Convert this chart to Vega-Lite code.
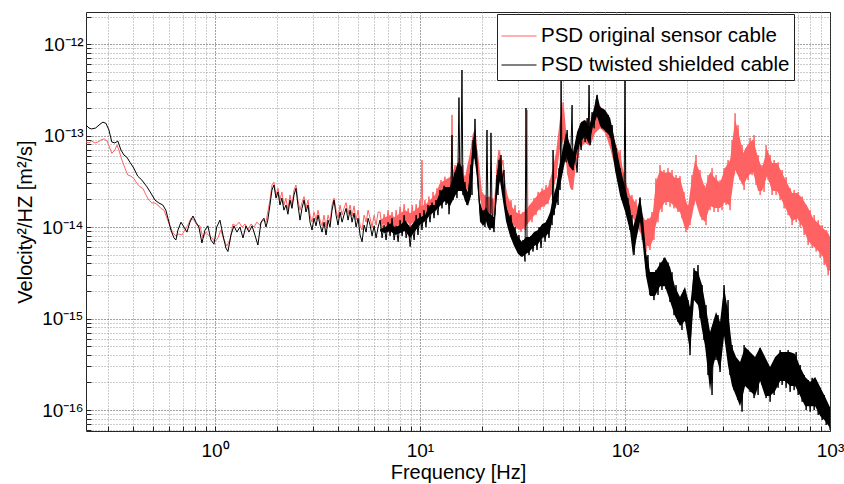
{
"$schema": "https://vega.github.io/schema/vega-lite/v6.json",
"width": 744, "height": 419,
"autosize": {"type": "none"},
"padding": {"left": 86, "top": 12, "right": 14, "bottom": 53},
"background": "white",
"config": {
  "view": {"stroke": "#262626", "strokeWidth": 1},
  "font": "Liberation Sans",
  "axis": {"labelFont": "Liberation Sans", "titleFont": "Liberation Sans", "labelColor": "black", "titleColor": "black", "titleFontWeight": "normal", "domain": false, "labelOverlap": false, "labelFlush": false, "tickColor": "#222", "tickSize": -5}
},
"datasets": {
"origBand": [
{"f":6.39,"p":1.2e-14,"p2":1.1e-14},{"f":6.76,"p":1.28e-14,"p2":1.05e-14},{"f":7.151,"p":1.35e-14,"p2":1.05e-14},{"f":7.565,"p":1.28e-14,"p2":1.0e-14},{"f":8.002,"p":1.42e-14,"p2":1.1e-14},{"f":8.465,"p":1.53e-14,"p2":1.19e-14},{"f":8.955,"p":1.42e-14,"p2":1.05e-14},{"f":9.473,"p":1.53e-14,"p2":1.19e-14},{"f":10.0,"p":1.69e-14,"p2":1.28e-14},{"f":10.58,"p":1.74e-14,"p2":1.35e-14},{"f":11.19,"p":1.97e-14,"p2":1.53e-14},{"f":11.84,"p":2.24e-14,"p2":1.74e-14},{"f":12.52,"p":3.02e-14,"p2":2.077e-14},{"f":13.24,"p":3.26e-14,"p2":2.077e-14},{"f":14.01,"p":3.52e-14,"p2":2.077e-14},{"f":14.82,"p":4.53e-14,"p2":2.67e-14},{"f":15.67,"p":5.14e-14,"p2":2.67e-14},{"f":16.58,"p":3.52e-14,"p2":2.077e-14},{"f":17.54,"p":6.43e-14,"p2":3.02e-14},{"f":18.35,"p":1.066e-13,"p2":6.43e-14},{"f":19.19,"p":6.43e-14,"p2":3.43e-14},{"f":20.07,"p":2.416e-14,"p2":1.53e-14},{"f":21.0,"p":2.13e-14,"p2":1.418e-14},{"f":21.96,"p":2.13e-14,"p2":1.418e-14},{"f":22.97,"p":1.873e-14,"p2":1.316e-14},{"f":23.76,"p":5.0e-14,"p2":2.67e-14},{"f":24.57,"p":6.94e-14,"p2":3.89e-14},{"f":25.7,"p":3.1e-14,"p2":1.826e-14},{"f":26.9,"p":2.13e-14,"p2":1.418e-14},{"f":28.12,"p":1.655e-14,"p2":1.103e-14},{"f":29.42,"p":1.455e-14,"p2":9.73e-15},{"f":30.77,"p":1.38e-14,"p2":9.27e-15},{"f":32.19,"p":1.455e-14,"p2":9.73e-15},{"f":33.67,"p":1.655e-14,"p2":1.103e-14},{"f":35.2,"p":1.873e-14,"p2":1.25e-14},{"f":36.83,"p":2.13e-14,"p2":1.418e-14},{"f":38.53,"p":2.416e-14,"p2":1.613e-14},{"f":40.3,"p":2.54e-14,"p2":1.697e-14},{"f":42.16,"p":2.74e-14,"p2":1.826e-14},{"f":44.1,"p":3.99e-14,"p2":2.355e-14},{"f":46.12,"p":6.6e-14,"p2":3.43e-14},{"f":48.24,"p":1.557e-13,"p2":7.3e-14},{"f":50.46,"p":1.993e-13,"p2":9.36e-14},{"f":52.2,"p":8.28e-14,"p2":3.89e-14},{"f":53.99,"p":5.14e-14,"p2":2.67e-14},{"f":55.84,"p":4.53e-14,"p2":2.54e-14},{"f":57.75,"p":9.36e-14,"p2":5.0e-14},{"f":60.41,"p":1.372e-13,"p2":7.3e-14},{"f":63.9,"p":1.443e-13,"p2":8.28e-14},{"f":67.6,"p":1.372e-13,"p2":7.67e-14},{"f":71.51,"p":1.761e-13,"p2":1.066e-13},{"f":75.65,"p":1.993e-13,"p2":1.205e-13},{"f":80.02,"p":1.761e-13,"p2":1.066e-13},{"f":84.65,"p":1.205e-13,"p2":7.3e-14},{"f":89.55,"p":8.28e-14,"p2":4.41e-14},{"f":94.73,"p":6.12e-14,"p2":3.1e-14},{"f":100,"p":3.26e-14,"p2":2.077e-14},{"f":105.8,"p":2.24e-14,"p2":1.455e-14},{"f":111.9,"p":1.873e-14,"p2":1.132e-14},{"f":118.4,"p":1.53e-14,"p2":8.82e-15},{"f":125.2,"p":1.19e-14,"p2":6.36e-15},{"f":132.4,"p":1.25e-14,"p2":6.05e-15},{"f":136.9,"p":1.455e-14,"p2":7.21e-15},{"f":141.6,"p":3.1e-14,"p2":1.05e-14},{"f":148.2,"p":4.2e-14,"p2":1.53e-14},{"f":156.7,"p":3.89e-14,"p2":1.873e-14},{"f":165.8,"p":3.99e-14,"p2":1.873e-14},{"f":175.4,"p":3.43e-14,"p2":1.655e-14},{"f":185.5,"p":3.43e-14,"p2":1.455e-14},{"f":196.2,"p":2.13e-14,"p2":9.73e-15},{"f":202.9,"p":1.655e-14,"p2":9.27e-15},{"f":212.3,"p":3.43e-14,"p2":1.316e-14},{"f":219.6,"p":5.4e-14,"p2":1.97e-14},{"f":232.3,"p":3.89e-14,"p2":1.316e-14},{"f":245.7,"p":2.67e-14,"p2":1.132e-14},{"f":260.0,"p":3.99e-14,"p2":1.697e-14},{"f":275.0,"p":3.43e-14,"p2":1.613e-14},{"f":290.9,"p":3.02e-14,"p2":1.613e-14},{"f":307.7,"p":4.41e-14,"p2":1.873e-14},{"f":325.5,"p":5.4e-14,"p2":1.697e-14},{"f":344.3,"p":1.48e-13,"p2":4.2e-14},{"f":356.1,"p":1.15e-13,"p2":3.61e-14},{"f":376.7,"p":6.43e-14,"p2":2.81e-14},{"f":398.5,"p":8.07e-14,"p2":3.61e-14},{"f":421.6,"p":9.13e-14,"p2":3.99e-14},{"f":445.9,"p":5.67e-14,"p2":2.48e-14},{"f":466.4,"p":4.41e-14,"p2":2.48e-14},{"f":493.4,"p":7.11e-14,"p2":3.61e-14},{"f":521.9,"p":5.0e-14,"p2":2.48e-14},{"f":552.2,"p":5.0e-14,"p2":2.48e-14},{"f":584.0,"p":3.89e-14,"p2":1.92e-14},{"f":617.8,"p":3.02e-14,"p2":1.49e-14},{"f":653.5,"p":2.355e-14,"p2":1.16e-14},{"f":691.3,"p":2.355e-14,"p2":1.25e-14},{"f":731.3,"p":2.077e-14,"p2":1.024e-14},{"f":782.3,"p":1.613e-14,"p2":7.03e-15},{"f":827.6,"p":1.25e-14,"p2":6.2e-15},{"f":875.5,"p":1.103e-14,"p2":5.47e-15},{"f":926.0,"p":9.73e-15,"p2":4.7e-15},{"f":979.7,"p":8.6e-15,"p2":3.22e-15},{"f":1000,"p":7.78e-15,"p2":3.39e-15}
],
"twistBand": [
{"f":6.39,"p":9.5e-15,"p2":9.0e-15},{"f":6.76,"p":9.97e-15,"p2":8.61e-15},{"f":7.151,"p":1.1e-14,"p2":9.04e-15},{"f":7.565,"p":9.97e-15,"p2":8.18e-15},{"f":8.002,"p":1.05e-14,"p2":8.61e-15},{"f":8.465,"p":1.19e-14,"p2":9.04e-15},{"f":8.955,"p":9.97e-15,"p2":7.59e-15},{"f":9.473,"p":1.19e-14,"p2":9.04e-15},{"f":10.0,"p":1.28e-14,"p2":1.05e-14},{"f":10.58,"p":1.35e-14,"p2":1.16e-14},{"f":11.19,"p":1.74e-14,"p2":1.35e-14},{"f":11.84,"p":1.74e-14,"p2":1.49e-14},{"f":12.52,"p":2.416e-14,"p2":1.697e-14},{"f":13.24,"p":2.74e-14,"p2":1.92e-14},{"f":14.01,"p":2.74e-14,"p2":1.697e-14},{"f":14.82,"p":3.99e-14,"p2":2.18e-14},{"f":15.33,"p":5.14e-14,"p2":2.48e-14},{"f":16.03,"p":4.53e-14,"p2":2.48e-14},{"f":16.58,"p":2.74e-14,"p2":1.92e-14},{"f":17.15,"p":2.416e-14,"p2":1.697e-14},{"f":17.74,"p":5.14e-14,"p2":2.18e-14},{"f":18.35,"p":1.094e-13,"p2":5.97e-14},{"f":18.97,"p":6.6e-14,"p2":3.61e-14},{"f":19.62,"p":1.873e-14,"p2":1.16e-14},{"f":20.3,"p":1.455e-14,"p2":1.024e-14},{"f":21.0,"p":1.655e-14,"p2":1.16e-14},{"f":21.47,"p":1.455e-14,"p2":9.73e-15},{"f":22.97,"p":1.284e-14,"p2":9.73e-15},{"f":23.76,"p":3.99e-14,"p2":2.18e-14},{"f":24.57,"p":5.82e-14,"p2":3.18e-14},{"f":25.41,"p":3.52e-14,"p2":1.92e-14},{"f":26.29,"p":1.655e-14,"p2":1.16e-14},{"f":27.5,"p":1.284e-14,"p2":7.98e-15},{"f":28.77,"p":9.99e-15,"p2":6.2e-15},{"f":30.09,"p":7.78e-15,"p2":5.07e-15},{"f":31.47,"p":6.86e-15,"p2":4.7e-15},{"f":32.92,"p":7.78e-15,"p2":5.07e-15},{"f":34.43,"p":7.78e-15,"p2":5.47e-15},{"f":36.02,"p":8.82e-15,"p2":6.2e-15},{"f":37.67,"p":9.27e-15,"p2":6.52e-15},{"f":39.41,"p":1.076e-14,"p2":7.58e-15},{"f":41.22,"p":1.132e-14,"p2":7.98e-15},{"f":43.11,"p":1.455e-14,"p2":9.04e-15},{"f":44.59,"p":2.13e-14,"p2":1.316e-14},{"f":46.12,"p":2.74e-14,"p2":1.697e-14},{"f":47.7,"p":4.53e-14,"p2":2.48e-14},{"f":49.9,"p":7.48e-14,"p2":4.1e-14},{"f":51.6,"p":1.094e-13,"p2":5.97e-14},{"f":53.4,"p":8.49e-14,"p2":4.64e-14},{"f":55.84,"p":6.6e-14,"p2":4.1e-14},{"f":58.4,"p":1.094e-13,"p2":6.77e-14},{"f":61.1,"p":1.407e-13,"p2":8.71e-14},{"f":63.9,"p":1.48e-13,"p2":9.85e-14},{"f":66.8,"p":1.236e-13,"p2":8.07e-14},{"f":69.91,"p":1.807e-13,"p2":1.268e-13},{"f":73.1,"p":2.84e-13,"p2":1.638e-13},{"f":75.65,"p":2.045e-13,"p2":1.268e-13},{"f":80.02,"p":1.9e-13,"p2":1.121e-13},{"f":84.65,"p":1.557e-13,"p2":9.85e-14},{"f":89.55,"p":8.49e-14,"p2":4.1e-14},{"f":94.73,"p":4.53e-14,"p2":2.18e-14},{"f":100,"p":2.74e-14,"p2":1.49e-14},{"f":105.8,"p":1.655e-14,"p2":9.04e-15},{"f":109.4,"p":9.99e-15,"p2":4.82e-15},{"f":113.2,"p":1.284e-14,"p2":7.03e-15},{"f":118.4,"p":2.13e-14,"p2":1.16e-14},{"f":122.4,"p":1.284e-14,"p2":6.2e-15},{"f":126.6,"p":5.34e-15,"p2":2.92e-15},{"f":132.4,"p":3.22e-15,"p2":1.76e-15},{"f":140.1,"p":3.22e-15,"p2":1.76e-15},{"f":148.2,"p":3.94e-15,"p2":2.26e-15},{"f":156.7,"p":4.7e-15,"p2":2.26e-15},{"f":165.8,"p":3.65e-15,"p2":1.55e-15},{"f":175.4,"p":2.21e-15,"p2":1.06e-15},{"f":185.5,"p":1.72e-15,"p2":8.28e-16},{"f":196.2,"p":2.21e-15,"p2":9.39e-16},{"f":207.6,"p":1.33e-15,"p2":4.41e-16},{"f":217.1,"p":3.39e-15,"p2":1.59e-15},{"f":227.1,"p":3.22e-15,"p2":1.4e-15},{"f":237.6,"p":2.32e-15,"p2":7.49e-16},{"f":245.7,"p":1.51e-15,"p2":5.0e-16},{"f":260.0,"p":7.12e-16,"p2":1.61e-16},{"f":268.9,"p":9.16e-16,"p2":3.02e-16},{"f":278.1,"p":1.18e-15,"p2":3.89e-16},{"f":290.9,"p":9.16e-16,"p2":2.67e-16},{"f":304.3,"p":2.21e-15,"p2":6.44e-16},{"f":318.3,"p":1.18e-15,"p2":3.02e-16},{"f":332.9,"p":4.88e-16,"p2":1.83e-16},{"f":348.2,"p":3.8e-16,"p2":1.42e-16},{"f":364.2,"p":3.35e-16,"p2":1.1e-16},{"f":385.3,"p":4.88e-16,"p2":1.83e-16},{"f":407.6,"p":4.3e-16,"p2":1.61e-16},{"f":431.1,"p":3.8e-16,"p2":1.42e-16},{"f":456.1,"p":4.88e-16,"p2":2.08e-16},{"f":482.4,"p":3.8e-16,"p2":1.42e-16},{"f":510.3,"p":2.95e-16,"p2":1.42e-16},{"f":539.9,"p":3.8e-16,"p2":1.61e-16},{"f":571.1,"p":4.3e-16,"p2":2.08e-16},{"f":604.1,"p":4.3e-16,"p2":2.08e-16},{"f":639.0,"p":4.3e-16,"p2":1.83e-16},{"f":676.0,"p":4.09e-16,"p2":1.83e-16},{"f":715.1,"p":2.95e-16,"p2":1.42e-16},{"f":756.5,"p":2.29e-16,"p2":1.1e-16},{"f":800.2,"p":2.03e-16,"p2":1.1e-16},{"f":846.5,"p":2.29e-16,"p2":1.1e-16},{"f":895.5,"p":1.79e-16,"p2":8.6e-17},{"f":947.3,"p":1.39e-16,"p2":7.58e-17},{"f":1000,"p":1.07e-16,"p2":6.36e-17}
],
"orig": [
{"f":0.235,"p":8.5e-14},{"f":0.243,"p":8.3e-14},{"f":0.25,"p":8.7e-14},{"f":0.26,"p":8.3e-14},{"f":0.269,"p":8.5e-14},{"f":0.278,"p":8.93e-14},{"f":0.288,"p":9.2e-14},{"f":0.298,"p":8.7e-14},{"f":0.307,"p":7.3e-14},{"f":0.314,"p":6.4e-14},{"f":0.325,"p":6.94e-14},{"f":0.333,"p":7.87e-14},{"f":0.34,"p":6.94e-14},{"f":0.352,"p":5.4e-14},{"f":0.364,"p":4.4e-14},{"f":0.376,"p":3.7e-14},{"f":0.389,"p":3.6e-14},{"f":0.402,"p":3.4e-14},{"f":0.416,"p":3.0e-14},{"f":0.431,"p":2.75e-14},{"f":0.445,"p":2.65e-14},{"f":0.461,"p":2.24e-14},{"f":0.476,"p":1.97e-14},{"f":0.493,"p":1.83e-14},{"f":0.51,"p":1.83e-14},{"f":0.527,"p":1.74e-14},{"f":0.545,"p":1.6e-14},{"f":0.564,"p":1.53e-14},{"f":0.583,"p":1.25e-14},{"f":0.603,"p":1.03e-14},{"f":0.624,"p":8.6e-15},{"f":0.645,"p":8.0e-15},{"f":0.667,"p":8.4e-15},{"f":0.69,"p":8.18e-15},{"f":0.714,"p":9.27e-15},{"f":0.738,"p":1.05e-14},{"f":0.764,"p":1.25e-14},{"f":0.79,"p":1.19e-14},{"f":0.817,"p":1.05e-14},{"f":0.845,"p":1.03e-14},{"f":0.874,"p":7.6e-15},{"f":0.904,"p":8.8e-15},{"f":0.935,"p":8.0e-15},{"f":0.967,"p":7.6e-15},{"f":1.0,"p":6.9e-15},{"f":1.034,"p":7.6e-15},{"f":1.07,"p":9.27e-15},{"f":1.106,"p":7.21e-15},{"f":1.144,"p":6.2e-15},{"f":1.184,"p":7.21e-15},{"f":1.224,"p":1.08e-14},{"f":1.266,"p":1.03e-14},{"f":1.31,"p":1.13e-14},{"f":1.355,"p":1.0e-14},{"f":1.401,"p":1.08e-14},{"f":1.449,"p":9.27e-15},{"f":1.499,"p":1.08e-14},{"f":1.55,"p":1.0e-14},{"f":1.6,"p":1.13e-14},{"f":1.658,"p":1.05e-14},{"f":1.715,"p":1.19e-14},{"f":1.774,"p":1.13e-14},{"f":1.81,"p":1.46e-14},{"f":1.855,"p":1.97e-14},{"f":1.897,"p":2.88e-14},{"f":1.94,"p":3.1e-14},{"f":1.985,"p":2.24e-14},{"f":2.03,"p":2.65e-14},{"f":2.076,"p":1.97e-14},{"f":2.12,"p":2.42e-14},{"f":2.17,"p":1.74e-14},{"f":2.22,"p":2.07e-14},{"f":2.27,"p":1.53e-14},{"f":2.323,"p":2.24e-14},{"f":2.376,"p":1.74e-14},{"f":2.43,"p":2.54e-14},{"f":2.485,"p":2.88e-14},{"f":2.54,"p":1.97e-14},{"f":2.6,"p":1.53e-14},{"f":2.658,"p":1.85e-14},{"f":2.72,"p":2.15e-14},{"f":2.78,"p":1.6e-14},{"f":2.845,"p":1.97e-14},{"f":2.909,"p":1.35e-14},{"f":2.975,"p":1.13e-14},{"f":3.043,"p":1.46e-14},{"f":3.112,"p":1.19e-14},{"f":3.183,"p":1.53e-14},{"f":3.255,"p":1.19e-14},{"f":3.33,"p":1.03e-14},{"f":3.405,"p":1.35e-14},{"f":3.483,"p":1.0e-14},{"f":3.562,"p":1.35e-14},{"f":3.642,"p":1.13e-14},{"f":3.725,"p":1.74e-14},{"f":3.81,"p":2.07e-14},{"f":3.897,"p":1.53e-14},{"f":3.986,"p":1.25e-14},{"f":4.076,"p":1.74e-14},{"f":4.17,"p":1.35e-14},{"f":4.26,"p":1.6e-14},{"f":4.36,"p":1.85e-14},{"f":4.46,"p":1.38e-14},{"f":4.561,"p":1.74e-14},{"f":4.665,"p":1.32e-14},{"f":4.77,"p":1.7e-14},{"f":4.88,"p":1.19e-14},{"f":4.99,"p":1.53e-14},{"f":5.103,"p":1.05e-14},{"f":5.22,"p":9.27e-15},{"f":5.34,"p":1.35e-14},{"f":5.46,"p":1.13e-14},{"f":5.585,"p":1.53e-14},{"f":5.711,"p":1.25e-14},{"f":5.84,"p":1.0e-14},{"f":5.975,"p":1.35e-14},{"f":6.11,"p":1.05e-14},{"f":6.25,"p":1.46e-14},
{"f":6.39,"p":1.46e-14},{"f":6.535,"p":9.27e-15},{"f":6.685,"p":1.38e-14},{"f":6.835,"p":1.0e-14},{"f":6.99,"p":1.53e-14},{"f":7.151,"p":1.0e-14},{"f":7.31,"p":1.46e-14},{"f":7.48,"p":9.27e-15},{"f":7.65,"p":1.53e-14},{"f":7.825,"p":1.0e-14},{"f":8.0,"p":1.67e-14},{"f":8.185,"p":1.03e-14},{"f":8.37,"p":1.78e-14},{"f":8.56,"p":1.08e-14},{"f":8.76,"p":1.6e-14},{"f":8.955,"p":9.27e-15},{"f":9.16,"p":1.74e-14},{"f":9.37,"p":1.05e-14},{"f":9.58,"p":1.78e-14},{"f":9.78,"p":1.13e-14},{"f":10.0,"p":1.97e-14},{"f":10.11,"p":1.35e-14},{"f":10.23,"p":5.4e-14},{"f":10.34,"p":1.25e-14},{"f":10.58,"p":1.97e-14},{"f":10.82,"p":1.25e-14},{"f":11.06,"p":2.15e-14},{"f":11.32,"p":1.38e-14},{"f":11.58,"p":2.42e-14},{"f":11.84,"p":1.53e-14},{"f":12.1,"p":2.65e-14},{"f":12.38,"p":1.97e-14},{"f":12.67,"p":3.26e-14},{"f":12.95,"p":2.07e-14},{"f":13.24,"p":3.55e-14},{"f":13.55,"p":2.07e-14},{"f":13.86,"p":3.4e-14},{"f":14.17,"p":2.07e-14},{"f":14.33,"p":1.68e-13},{"f":14.49,"p":2.54e-14},{"f":14.82,"p":4.76e-14},{"f":15.16,"p":2.65e-14},{"f":15.5,"p":5.7e-14},{"f":15.85,"p":2.88e-14},{"f":16.21,"p":4.76e-14},{"f":16.58,"p":2.24e-14},{"f":16.96,"p":3.7e-14},{"f":17.34,"p":3.26e-14},{"f":17.74,"p":6.94e-14},{"f":18.14,"p":1.01e-13},{"f":18.55,"p":1.15e-13},{"f":18.97,"p":6.12e-14},{"f":19.4,"p":3.4e-14},{"f":19.84,"p":1.97e-14},{"f":20.3,"p":1.53e-14},{"f":20.76,"p":2.24e-14},{"f":21.23,"p":1.46e-14},{"f":21.7,"p":2.15e-14},{"f":22.2,"p":1.38e-14},{"f":22.7,"p":2.07e-14},{"f":23.23,"p":1.35e-14},{"f":23.76,"p":4.76e-14},{"f":24.3,"p":6.94e-14},{"f":24.85,"p":4.2e-14},{"f":25.4,"p":5.4e-14},{"f":26.0,"p":3.0e-14},{"f":26.6,"p":2.07e-14},{"f":27.2,"p":1.46e-14},{"f":27.8,"p":1.97e-14},{"f":28.45,"p":1.19e-14},{"f":29.1,"p":1.74e-14},{"f":29.75,"p":1.0e-14},{"f":30.4,"p":1.53e-14},{"f":31.1,"p":8.8e-15},{"f":31.8,"p":1.46e-14},{"f":32.55,"p":9.27e-15},{"f":33.3,"p":1.9e-13},{"f":33.6,"p":1.35e-14},{"f":34.43,"p":1.74e-14},{"f":35.2,"p":1.13e-14},{"f":36.0,"p":2.07e-14},{"f":36.8,"p":1.35e-14},{"f":37.7,"p":2.42e-14},{"f":38.53,"p":1.53e-14},{"f":39.4,"p":2.65e-14},{"f":40.3,"p":1.67e-14},{"f":41.2,"p":2.88e-14},{"f":42.1,"p":1.78e-14},{"f":43.11,"p":3.26e-14},{"f":44.1,"p":2.24e-14},{"f":45.1,"p":4.76e-14},{"f":46.1,"p":3.4e-14},{"f":47.2,"p":7.87e-14},{"f":48.24,"p":1.15e-13},{"f":49.35,"p":1.68e-13},{"f":49.9,"p":2.3e-13},{"f":50.5,"p":1.01e-13},{"f":51.6,"p":6.94e-14},{"f":52.8,"p":3.7e-14},{"f":54.0,"p":5.1e-14},{"f":55.2,"p":2.54e-14},{"f":56.5,"p":4.4e-14},{"f":57.7,"p":8.5e-14},{"f":59.05,"p":5.7e-14},{"f":60.41,"p":1.3e-13},{"f":61.8,"p":7.87e-14},{"f":63.2,"p":1.48e-13},{"f":64.6,"p":8.93e-14},{"f":66.1,"p":1.55e-13},{"f":67.6,"p":8.93e-14},{"f":69.1,"p":1.68e-13},{"f":70.7,"p":1.15e-13},{"f":72.3,"p":2.0e-13},{"f":74.0,"p":1.3e-13},{"f":75.65,"p":2.1e-13},{"f":77.4,"p":1.2e-13},{"f":79.1,"p":1.8e-13},{"f":80.9,"p":1.01e-13},{"f":82.8,"p":1.4e-13},{"f":84.65,"p":7.87e-14},{"f":86.6,"p":1.15e-13},{"f":88.5,"p":5.4e-14},{"f":90.6,"p":7.87e-14},{"f":92.6,"p":4.4e-14},{"f":94.73,"p":6.94e-14},{"f":96.9,"p":3.1e-14},{"f":99.1,"p":3.95e-14},{"f":101.1,"p":2.24e-14},{"f":103.4,"p":2.65e-14},{"f":105.8,"p":1.74e-14},{"f":108.2,"p":2.24e-14},{"f":110.7,"p":1.35e-14},{"f":113.2,"p":1.97e-14},{"f":115.8,"p":1.0e-14},{"f":118.4,"p":1.6e-14},{"f":121.1,"p":7.21e-15},{"f":123.8,"p":1.13e-14},{"f":126.6,"p":5.3e-15},{"f":129.5,"p":1.25e-14},{"f":132.4,"p":5.61e-15},{"f":135.4,"p":1.46e-14},{"f":138.5,"p":7.21e-15},{"f":141.6,"p":3.4e-14},{"f":144.9,"p":1.13e-14},{"f":148.2,"p":4.76e-14},{"f":151.5,"p":1.46e-14},{"f":155.0,"p":4.2e-14},{"f":158.5,"p":1.74e-14},{"f":162.1,"p":4.4e-14},{"f":165.8,"p":1.67e-14},{"f":169.6,"p":4.2e-14},{"f":173.4,"p":1.6e-14},{"f":177.4,"p":3.7e-14},{"f":181.4,"p":1.46e-14},{"f":185.5,"p":3.6e-14},{"f":189.7,"p":1.25e-14},{"f":194.0,"p":2.42e-14},{"f":198.4,"p":8.8e-15},{"f":202.9,"p":1.74e-14},{"f":207.6,"p":1.05e-14},{"f":212.3,"p":3.7e-14},{"f":217.1,"p":1.74e-14},{"f":222.0,"p":6.12e-14},{"f":227.1,"p":1.97e-14},{"f":232.3,"p":4.2e-14},{"f":237.6,"p":1.19e-14},{"f":243.0,"p":2.88e-14},{"f":248.5,"p":1.05e-14},{"f":254.1,"p":3.7e-14},{"f":260.0,"p":1.53e-14},{"f":265.9,"p":4.4e-14},{"f":271.9,"p":1.46e-14},{"f":278.1,"p":3.7e-14},{"f":284.4,"p":1.46e-14},{"f":290.9,"p":3.26e-14},{"f":297.5,"p":1.53e-14},{"f":304.3,"p":4.4e-14},{"f":311.2,"p":1.74e-14},{"f":318.3,"p":5.4e-14},{"f":325.5,"p":1.53e-14},{"f":332.9,"p":8.93e-14},{"f":340.5,"p":3.7e-14},{"f":344.3,"p":1.75e-13},{"f":348.2,"p":5.4e-14},{"f":356.1,"p":1.3e-13},{"f":364.2,"p":3.26e-14},{"f":372.5,"p":7.87e-14},{"f":381.0,"p":2.54e-14},{"f":389.6,"p":7.3e-14},{"f":398.5,"p":3.26e-14},{"f":407.6,"p":9.4e-14},{"f":416.8,"p":3.7e-14},{"f":426.3,"p":1.01e-13},{"f":436.0,"p":2.88e-14},{"f":445.9,"p":6.12e-14},{"f":456.1,"p":2.24e-14},{"f":466.4,"p":4.76e-14},{"f":477.0,"p":2.42e-14},{"f":487.9,"p":7.87e-14},{"f":499.0,"p":3.26e-14},{"f":510.3,"p":6.12e-14},{"f":521.9,"p":2.24e-14},{"f":533.8,"p":5.4e-14},{"f":545.9,"p":2.24e-14},{"f":558.3,"p":5.1e-14},{"f":571.1,"p":1.97e-14},{"f":584.0,"p":4.2e-14},{"f":597.3,"p":1.6e-14},{"f":610.9,"p":3.5e-14},{"f":624.8,"p":1.35e-14},{"f":639.0,"p":2.65e-14},{"f":653.5,"p":1.05e-14},{"f":668.4,"p":2.54e-14},{"f":683.6,"p":1.13e-14},{"f":699.1,"p":2.42e-14},{"f":715.1,"p":1.0e-14},{"f":731.3,"p":2.15e-14},{"f":747.9,"p":8.18e-15},{"f":764.9,"p":1.74e-14},{"f":782.3,"p":6.36e-15},{"f":800.2,"p":1.53e-14},{"f":818.4,"p":5.9e-15},{"f":837.0,"p":1.35e-14},{"f":856.0,"p":5.4e-15},{"f":875.5,"p":1.19e-14},{"f":895.5,"p":4.6e-15},{"f":915.8,"p":1.05e-14},{"f":936.6,"p":3.84e-15},{"f":957.9,"p":9.27e-15},{"f":979.7,"p":2.99e-15},{"f":1000,"p":7.6e-15}
],
"twist": [
{"f":0.235,"p":1.30e-13},{"f":0.243,"p":1.21e-13},{"f":0.25,"p":1.18e-13},{"f":0.262,"p":1.21e-13},{"f":0.275,"p":1.33e-13},{"f":0.284,"p":1.40e-13},{"f":0.294,"p":1.36e-13},{"f":0.304,"p":1.15e-13},{"f":0.314,"p":8.5e-14},{"f":0.325,"p":8.3e-14},{"f":0.336,"p":8.7e-14},{"f":0.348,"p":6.94e-14},{"f":0.36,"p":6.12e-14},{"f":0.372,"p":5.8e-14},{"f":0.385,"p":5.1e-14},{"f":0.402,"p":4.4e-14},{"f":0.42,"p":3.6e-14},{"f":0.44,"p":3.26e-14},{"f":0.466,"p":2.75e-14},{"f":0.487,"p":2.35e-14},{"f":0.51,"p":1.97e-14},{"f":0.533,"p":1.83e-14},{"f":0.557,"p":1.74e-14},{"f":0.576,"p":1.53e-14},{"f":0.59,"p":1.25e-14},{"f":0.61,"p":9.27e-15},{"f":0.631,"p":7.6e-15},{"f":0.645,"p":7.21e-15},{"f":0.66,"p":9.27e-15},{"f":0.683,"p":1.13e-14},{"f":0.706,"p":1.0e-14},{"f":0.73,"p":8.8e-15},{"f":0.755,"p":1.13e-14},{"f":0.781,"p":1.32e-14},{"f":0.808,"p":1.13e-14},{"f":0.835,"p":1.0e-14},{"f":0.864,"p":6.7e-15},{"f":0.894,"p":9.27e-15},{"f":0.924,"p":1.03e-14},{"f":0.956,"p":7.21e-15},{"f":0.989,"p":6.5e-15},{"f":1.02,"p":1.0e-14},{"f":1.058,"p":1.19e-14},{"f":1.094,"p":8.18e-15},{"f":1.131,"p":5.9e-15},{"f":1.157,"p":5.4e-15},{"f":1.197,"p":8.18e-15},{"f":1.238,"p":1.03e-14},{"f":1.28,"p":8.8e-15},{"f":1.324,"p":1.0e-14},{"f":1.37,"p":7.6e-15},{"f":1.417,"p":1.03e-14},{"f":1.466,"p":8.8e-15},{"f":1.516,"p":1.03e-14},{"f":1.567,"p":8.18e-15},{"f":1.62,"p":6.36e-15},{"f":1.677,"p":1.13e-14},{"f":1.734,"p":1.25e-14},{"f":1.774,"p":1.0e-14},{"f":1.81,"p":1.19e-14},{"f":1.855,"p":1.74e-14},{"f":1.897,"p":2.54e-14},{"f":1.94,"p":2.88e-14},{"f":1.985,"p":2.07e-14},{"f":2.03,"p":2.42e-14},{"f":2.076,"p":1.74e-14},{"f":2.12,"p":2.07e-14},{"f":2.17,"p":1.53e-14},{"f":2.22,"p":1.74e-14},{"f":2.27,"p":1.38e-14},{"f":2.323,"p":1.97e-14},{"f":2.376,"p":1.6e-14},{"f":2.43,"p":2.24e-14},{"f":2.485,"p":2.65e-14},{"f":2.54,"p":1.74e-14},{"f":2.6,"p":1.19e-14},{"f":2.658,"p":1.6e-14},{"f":2.72,"p":1.97e-14},{"f":2.78,"p":1.46e-14},{"f":2.845,"p":1.74e-14},{"f":2.909,"p":1.13e-14},{"f":2.975,"p":9.27e-15},{"f":3.043,"p":1.25e-14},{"f":3.112,"p":1.03e-14},{"f":3.183,"p":1.35e-14},{"f":3.255,"p":1.05e-14},{"f":3.33,"p":8.8e-15},{"f":3.405,"p":1.13e-14},{"f":3.483,"p":8.18e-15},{"f":3.562,"p":1.19e-14},{"f":3.642,"p":1.0e-14},{"f":3.725,"p":1.53e-14},{"f":3.81,"p":1.97e-14},{"f":3.897,"p":1.35e-14},{"f":3.986,"p":1.05e-14},{"f":4.076,"p":1.46e-14},{"f":4.17,"p":1.13e-14},{"f":4.26,"p":1.35e-14},{"f":4.36,"p":1.6e-14},{"f":4.46,"p":1.19e-14},{"f":4.561,"p":1.53e-14},{"f":4.665,"p":1.13e-14},{"f":4.77,"p":1.42e-14},{"f":4.88,"p":1.0e-14},{"f":4.99,"p":1.25e-14},{"f":5.103,"p":8.18e-15},{"f":5.22,"p":6.9e-15},{"f":5.34,"p":1.05e-14},{"f":5.46,"p":8.8e-15},{"f":5.585,"p":1.25e-14},{"f":5.711,"p":1.05e-14},{"f":5.84,"p":8.0e-15},{"f":5.975,"p":1.03e-14},{"f":6.11,"p":7.6e-15},{"f":6.25,"p":1.0e-14},
{"f":6.39,"p":1.19e-14},{"f":6.535,"p":7.6e-15},{"f":6.685,"p":1.05e-14},{"f":6.835,"p":7.21e-15},{"f":6.99,"p":1.13e-14},{"f":7.151,"p":8.0e-15},{"f":7.31,"p":1.25e-14},{"f":7.48,"p":7.21e-15},{"f":7.65,"p":1.03e-14},{"f":7.825,"p":6.9e-15},{"f":8.0,"p":1.19e-14},{"f":8.185,"p":8.0e-15},{"f":8.37,"p":1.35e-14},{"f":8.56,"p":7.6e-15},{"f":8.76,"p":1.05e-14},{"f":8.955,"p":6.1e-15},{"f":9.16,"p":1.0e-14},{"f":9.37,"p":7.21e-15},{"f":9.58,"p":1.35e-14},{"f":9.78,"p":8.18e-15},{"f":10.0,"p":1.42e-14},{"f":10.23,"p":9.27e-15},{"f":10.46,"p":1.53e-14},{"f":10.7,"p":1.0e-14},{"f":10.94,"p":1.74e-14},{"f":11.19,"p":1.13e-14},{"f":11.45,"p":1.85e-14},{"f":11.71,"p":1.25e-14},{"f":11.97,"p":1.97e-14},{"f":12.24,"p":1.35e-14},{"f":12.52,"p":2.54e-14},{"f":12.81,"p":1.6e-14},{"f":13.1,"p":2.82e-14},{"f":13.4,"p":1.74e-14},{"f":13.7,"p":2.42e-14},{"f":13.86,"p":1.38e-14},{"f":14.17,"p":2.75e-14},{"f":14.33,"p":1.01e-13},{"f":14.49,"p":1.97e-14},{"f":14.82,"p":3.95e-14},{"f":15.16,"p":2.07e-14},{"f":15.33,"p":4.76e-14},{"f":15.5,"p":2.6e-13},{"f":15.67,"p":2.54e-14},{"f":15.85,"p":4.2e-14},{"f":16.03,"p":5.2e-13},{"f":16.21,"p":2.24e-14},{"f":16.58,"p":3.1e-14},{"f":16.96,"p":1.74e-14},{"f":17.34,"p":2.75e-14},{"f":17.74,"p":4.76e-14},{"f":17.94,"p":2.24e-14},{"f":18.14,"p":8.93e-14},{"f":18.35,"p":5.6e-14},{"f":18.55,"p":1.52e-13},{"f":18.76,"p":6.94e-14},{"f":18.97,"p":3.95e-14},{"f":19.4,"p":2.07e-14},{"f":19.84,"p":1.13e-14},{"f":20.3,"p":1.53e-14},{"f":20.76,"p":1.0e-14},{"f":21.0,"p":1.53e-14},{"f":21.23,"p":1.15e-13},{"f":21.47,"p":1.35e-14},{"f":21.96,"p":9.27e-15},{"f":22.2,"p":1.07e-13},{"f":22.46,"p":1.46e-14},{"f":22.97,"p":8.8e-15},{"f":23.5,"p":2.24e-14},{"f":23.76,"p":3.7e-14},{"f":24.03,"p":2.24e-14},{"f":24.3,"p":5.4e-14},{"f":24.57,"p":3.26e-14},{"f":24.85,"p":6.12e-14},{"f":25.13,"p":2.88e-14},{"f":25.7,"p":4.2e-14},{"f":26.0,"p":1.97e-14},{"f":26.6,"p":1.46e-14},{"f":27.2,"p":1.05e-14},{"f":27.8,"p":1.35e-14},{"f":28.45,"p":7.21e-15},{"f":29.1,"p":1.0e-14},{"f":29.75,"p":5.61e-15},{"f":30.4,"p":8.18e-15},{"f":31.1,"p":4.8e-15},{"f":31.8,"p":7.21e-15},{"f":32.55,"p":4.2e-15},{"f":32.9,"p":2.0e-13},{"f":33.3,"p":6.36e-15},{"f":34.05,"p":4.94e-15},{"f":34.8,"p":8.0e-15},{"f":35.6,"p":5.4e-15},{"f":36.4,"p":8.8e-15},{"f":37.25,"p":5.61e-15},{"f":38.1,"p":1.0e-14},{"f":38.95,"p":5.9e-15},{"f":39.85,"p":1.08e-14},{"f":40.76,"p":6.9e-15},{"f":41.7,"p":1.19e-14},{"f":42.6,"p":7.6e-15},{"f":43.6,"p":1.46e-14},{"f":44.1,"p":1.05e-14},{"f":44.6,"p":6.94e-14},{"f":45.1,"p":1.35e-14},{"f":46.1,"p":2.54e-14},{"f":47.2,"p":1.74e-14},{"f":47.7,"p":4.4e-14},{"f":48.24,"p":2.54e-14},{"f":48.8,"p":4.25e-13},{"f":49.35,"p":3.95e-14},{"f":50.5,"p":7.3e-14},{"f":51.6,"p":5.1e-14},{"f":52.2,"p":1.15e-13},{"f":53.4,"p":5.4e-14},{"f":54.6,"p":7.87e-14},{"f":55.2,"p":2.15e-13},{"f":55.8,"p":4.2e-14},{"f":57.1,"p":6.6e-14},{"f":58.4,"p":3.95e-14},{"f":59.7,"p":1.1e-13},{"f":61.1,"p":6.94e-14},{"f":62.5,"p":1.4e-13},{"f":63.9,"p":8.5e-14},{"f":65.4,"p":1.55e-13},{"f":66.1,"p":8.93e-14},{"f":66.8,"p":3.56e-13},{"f":67.6,"p":7.87e-14},{"f":69.1,"p":1.8e-13},{"f":70.7,"p":1.2e-13},{"f":72.3,"p":2.44e-13},{"f":73.1,"p":2.77e-13},{"f":74.0,"p":1.55e-13},{"f":75.65,"p":2.0e-13},{"f":77.4,"p":1.2e-13},{"f":79.1,"p":1.9e-13},{"f":80.9,"p":1.1e-13},{"f":82.8,"p":1.68e-13},{"f":84.65,"p":9.4e-14},{"f":86.6,"p":1.3e-13},{"f":88.5,"p":5.7e-14},{"f":90.6,"p":7.3e-14},{"f":92.6,"p":3.26e-14},{"f":94.73,"p":4.4e-14},{"f":96.9,"p":1.97e-14},{"f":99.1,"p":2.75e-14},{"f":100.0,"p":4.25e-13},{"f":101.1,"p":1.46e-14},{"f":103.4,"p":2.07e-14},{"f":105.8,"p":9.27e-15},{"f":108.2,"p":1.35e-14},{"f":110.7,"p":4.94e-15},{"f":113.2,"p":9.27e-15},{"f":115.8,"p":1.35e-14},{"f":118.4,"p":2.1e-14},{"f":121.1,"p":1.05e-14},{"f":123.8,"p":7.21e-15},{"f":126.6,"p":3.55e-15},{"f":129.5,"p":4.94e-15},{"f":132.4,"p":1.81e-15},{"f":135.4,"p":3.2e-15},{"f":138.5,"p":1.59e-15},{"f":141.6,"p":3.39e-15},{"f":144.9,"p":1.81e-15},{"f":148.2,"p":4.1e-15},{"f":151.5,"p":2.05e-15},{"f":155.0,"p":4.6e-15},{"f":158.5,"p":2.1e-15},{"f":162.1,"p":4.1e-15},{"f":165.8,"p":1.52e-15},{"f":169.6,"p":3.2e-15},{"f":173.4,"p":1.09e-15},{"f":177.4,"p":2.32e-15},{"f":181.4,"p":9.2e-16},{"f":185.5,"p":1.66e-15},{"f":189.7,"p":7.49e-16},{"f":194.0,"p":2.05e-15},{"f":198.4,"p":9.2e-16},{"f":202.9,"p":1.59e-15},{"f":207.6,"p":3.99e-16},{"f":212.3,"p":1.4e-15},{"f":217.1,"p":3.55e-15},{"f":222.0,"p":1.59e-15},{"f":227.1,"p":3.84e-15},{"f":232.3,"p":1.01e-15},{"f":237.6,"p":2.32e-15},{"f":243.0,"p":5.82e-16},{"f":248.5,"p":1.4e-15},{"f":254.1,"p":2.41e-16},{"f":260.0,"p":6.6e-16},{"f":265.9,"p":1.46e-16},{"f":271.9,"p":9.2e-16},{"f":278.1,"p":3.52e-16},{"f":284.4,"p":1.09e-15},{"f":290.9,"p":2.6e-16},{"f":297.5,"p":7.49e-16},{"f":304.3,"p":2.32e-15},{"f":311.2,"p":5.82e-16},{"f":318.3,"p":1.59e-15},{"f":325.5,"p":2.41e-16},{"f":332.9,"p":5.13e-16},{"f":340.5,"p":1.65e-16},{"f":348.2,"p":3.7e-16},{"f":356.1,"p":1.29e-16},{"f":364.2,"p":3.2e-16},{"f":372.5,"p":9.6e-17},{"f":381.0,"p":5.13e-16},{"f":389.6,"p":2.25e-16},{"f":398.5,"p":4.52e-16},{"f":407.6,"p":1.58e-16},{"f":416.8,"p":3.99e-16},{"f":426.3,"p":1.35e-16},{"f":436.0,"p":3.52e-16},{"f":445.9,"p":1.46e-16},{"f":456.1,"p":4.75e-16},{"f":466.4,"p":1.88e-16},{"f":477.0,"p":3.7e-16},{"f":487.9,"p":1.35e-16},{"f":499.0,"p":3.1e-16},{"f":510.3,"p":1.23e-16},{"f":521.9,"p":2.9e-16},{"f":533.8,"p":1.46e-16},{"f":545.9,"p":3.7e-16},{"f":558.3,"p":1.75e-16},{"f":571.1,"p":4.52e-16},{"f":584.0,"p":1.88e-16},{"f":597.3,"p":4.3e-16},{"f":610.9,"p":1.75e-16},{"f":624.8,"p":4.52e-16},{"f":639.0,"p":1.58e-16},{"f":653.5,"p":3.99e-16},{"f":668.4,"p":1.65e-16},{"f":683.6,"p":4.3e-16},{"f":699.1,"p":1.46e-16},{"f":715.1,"p":3.1e-16},{"f":731.3,"p":1.23e-16},{"f":747.9,"p":2.41e-16},{"f":764.9,"p":1.0e-16},{"f":782.3,"p":2.13e-16},{"f":800.2,"p":9.6e-17},{"f":818.4,"p":2.25e-16},{"f":837.0,"p":1.0e-16},{"f":856.0,"p":2.13e-16},{"f":875.5,"p":8.82e-17},{"f":895.5,"p":1.75e-16},{"f":915.8,"p":7.77e-17},{"f":936.6,"p":1.46e-16},{"f":957.9,"p":6.86e-17},{"f":979.7,"p":1.13e-16},{"f":1000,"p":6.05e-17}
]
},
"encoding": {
  "x": {"field": "f", "type": "quantitative",
    "scale": {"type": "log", "domain": [0.235, 1000], "nice": false},
    "axis": {"title": "Frequency [Hz]", "titleFontSize": 20, "titlePadding": 2, "labelFontSize": 19, "labelPadding": 15,
      "values": [0.3,0.4,0.5,0.6,0.7,0.8,0.9,1,2,3,4,5,6,7,8,9,10,20,30,40,50,60,70,80,90,100,200,300,400,500,600,700,800,900,1000],
      "labelExpr": "datum.value==1?'10⁰':datum.value==10?'10¹':datum.value==100?'10²':datum.value==1000?'10³':''",
      "grid": true, "gridDash": [1, 2],
      "gridColor": {"condition": {"test": "abs(log(datum.value)/LN10 - round(log(datum.value)/LN10)) < 0.000001", "value": "#444"}, "value": "#999"}}},
  "y": {"field": "p", "type": "quantitative",
    "scale": {"type": "log", "domain": [5.9e-17, 2.24e-12], "nice": false},
    "axis": {"title": "Velocity²/HZ [m²/s]", "titleFontSize": 20, "titlePadding": 6, "labelFontSize": 19, "labelPadding": 8,
      "values": [6e-17,7e-17,8e-17,9e-17,1e-16,2e-16,3e-16,4e-16,5e-16,6e-16,7e-16,8e-16,9e-16,1e-15,2e-15,3e-15,4e-15,5e-15,6e-15,7e-15,8e-15,9e-15,1e-14,2e-14,3e-14,4e-14,5e-14,6e-14,7e-14,8e-14,9e-14,1e-13,2e-13,3e-13,4e-13,5e-13,6e-13,7e-13,8e-13,9e-13,1e-12,2e-12],
      "labelExpr": "datum.value==1e-12?'10⁻¹²':datum.value==1e-13?'10⁻¹³':datum.value==1e-14?'10⁻¹⁴':datum.value==1e-15?'10⁻¹⁵':datum.value==1e-16?'10⁻¹⁶':''",
      "grid": true, "gridDash": [1, 2],
      "gridColor": {"condition": {"test": "abs(log(datum.value)/LN10 - round(log(datum.value)/LN10)) < 0.000001", "value": "#444"}, "value": "#999"}}}
},
"layer": [
  {"data": {"name": "origBand"}, "mark": {"type": "area", "color": "#ff6262", "clip": true},
   "encoding": {"y2": {"field": "p2"}}},
  {"data": {"name": "orig"}, "mark": {"type": "line", "strokeWidth": 1, "clip": true},
   "encoding": {"color": {"datum": "PSD original sensor cable", "type": "nominal",
     "scale": {"domain": ["PSD original sensor cable", "PSD twisted shielded cable"], "range": ["#ff6262", "#000000"]},
     "legend": {"title": null, "orient": "none", "legendX": 411, "legendY": 2, "fillColor": "white", "strokeColor": "#222", "padding": 4, "labelFontSize": 20.5, "labelFont": "Liberation Sans", "labelColor": "black", "symbolType": "stroke", "symbolSize": 1225, "symbolStrokeWidth": 1, "labelOffset": 4, "rowPadding": -1, "labelLimit": 400}}}},
  {"data": {"name": "twistBand"}, "mark": {"type": "area", "color": "#000000", "clip": true},
   "encoding": {"y2": {"field": "p2"}}},
  {"data": {"name": "twist"}, "mark": {"type": "line", "strokeWidth": 1, "clip": true},
   "encoding": {"color": {"datum": "PSD twisted shielded cable", "type": "nominal"}}}
]
}
